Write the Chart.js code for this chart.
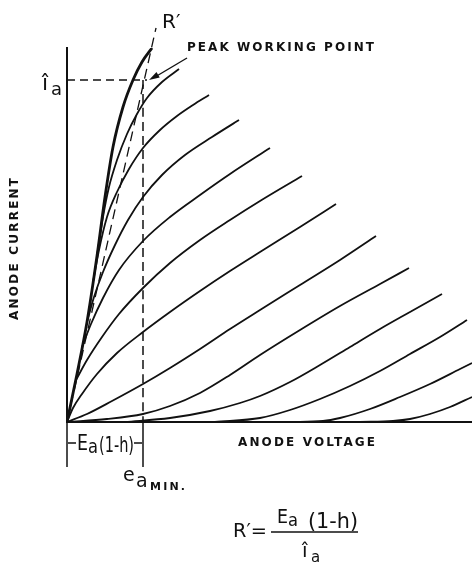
<!DOCTYPE html>
<html>
<head>
<meta charset="utf-8">
<script src="https://cdn.jsdelivr.net/npm/chart.js@4"></script>
<style>
  html, body { margin: 0; padding: 0; background: #fff; }
  canvas { display: block; }
</style>
</head>
<body>
<canvas id="anodeChart" width="472" height="566"></canvas>
<script>
// anode voltage / anode current pairs (arbitrary units)
const diodeLine = [[0,0],[10,48],[20,100],[30,166],[38,225],[46,275],[56,315],[66,342],[75,360],[85,374]];
const grid1 = [[30,166],[36,205],[42,235],[50,262],[60,288],[70,308],[80,324],[95,340],[112,353]];
const grid2 = [[26,140],[32,172],[40,205],[50,230],[62,253],[76,274],[93,292],[110,306],[126,317],[142,327]];
const grid3 = [[20,100],[27,125],[36,150],[48,177],[61,202],[76,225],[95,247],[118,267],[145,285],[172,302]];
const grid4 = [[15,75],[24,98],[36,124],[52,152],[76,181],[103,205],[133,227],[163,248],[203,274]];
const grid5 = [[9,42],[20,62],[35,85],[52,108],[76,134],[103,159],[133,182],[163,202],[193,221],[235,246]];
const grid6 = [[0,0],[6,14],[15,28],[30,48],[50,69],[76,90],[103,110],[133,131],[163,151],[193,170],[233,195],[269,218]];
const grid7 = [[0,0],[20,8],[45,21],[76,38],[103,54],[133,73],[163,93],[193,112],[233,137],[273,162],[309,186]];
const grid8 = [[0,0],[40,3],[76,8],[103,16],[133,29],[163,47],[193,67],[233,92],[273,116],[313,138],[342,154]];
const grid9 = [[58,0],[103,4],[143,11],[173,19],[193,26],[223,40],[253,57],[283,75],[313,93],[343,110],[375,128]];
const grid10 = [[148,0],[193,4],[223,12],[253,23],[283,36],[313,51],[343,68],[373,85],[400,102]];
const grid11 = [[223,0],[256,1],[273,4],[303,13],[333,25],[363,38],[393,53],[405,59]];
const grid12 = [[293,0],[326,1],[343,3],[363,8],[383,15],[405,25]];

const peakCurrent = 342;     // i_a peak
const eaMin = 76;            // e_a min
const loadLine = [[0,0],[89,394]];
const voltMax = 405;
const currMax = 374;

const family = [grid1, grid2, grid3, grid4, grid5, grid6, grid7, grid8, grid9, grid10, grid11, grid12];

function pts(arr) {
  return arr.map(p => ({ x: p[0], y: p[1] }));
}

const datasets = [];
datasets.push({ data: pts(diodeLine), borderColor: '#111', borderWidth: 2.8 });
family.forEach(c => {
  datasets.push({ data: pts(c), borderColor: '#111', borderWidth: 1.8 });
});
datasets.push({ data: pts(loadLine), borderColor: '#111', borderWidth: 1.3, borderDash: [10, 6], clip: false });
datasets.push({ data: pts([[0, peakCurrent], [eaMin + 4, peakCurrent]]), borderColor: '#111', borderWidth: 1.5, borderDash: [8, 5] });
datasets.push({ data: pts([[eaMin, peakCurrent], [eaMin, 0]]), borderColor: '#111', borderWidth: 1.5, borderDash: [9, 5] });
datasets.push({ data: pts([[eaMin, 0], [eaMin, -45]]), borderColor: '#111', borderWidth: 1.5, clip: false });
datasets.push({ data: pts([[0, 0], [0, -45]]), borderColor: '#111', borderWidth: 1.5, clip: false });

function spaced(ctx, text, x, y, width) {
  ctx.letterSpacing = '0px';
  const w = ctx.measureText(text).width;
  if ('letterSpacing' in ctx && text.length > 1) {
    ctx.letterSpacing = ((width - w) / (text.length - 1)) + 'px';
    ctx.fillText(text, x, y);
    ctx.letterSpacing = '0px';
  } else {
    ctx.fillText(text, x, y, width);
  }
}

const labels = {
  id: 'labels',
  afterDraw(chart) {
    const ctx = chart.ctx;
    const xs = chart.scales.x, ys = chart.scales.y;
    ctx.save();
    ctx.fillStyle = '#111';
    ctx.strokeStyle = '#111';
    ctx.textBaseline = 'alphabetic';
    ctx.textAlign = 'left';

    // R' at top of load line
    ctx.font = '20px "DejaVu Sans"';
    ctx.fillText('R\u2032', 162, 28);

    // peak working point label + arrow
    ctx.font = 'bold 12px "DejaVu Sans"';
    spaced(ctx, 'PEAK WORKING POINT', 187, 51, 187);
    const tipX = xs.getPixelForValue(eaMin) + 6;
    const tipY = ys.getPixelForValue(peakCurrent);
    const fromX = 187, fromY = 58;
    ctx.lineWidth = 1.4;
    ctx.beginPath();
    ctx.moveTo(fromX, fromY);
    ctx.lineTo(tipX + 6, tipY - 3);
    ctx.stroke();
    const ang = Math.atan2(tipY - fromY, tipX - fromX);
    ctx.beginPath();
    ctx.moveTo(tipX, tipY);
    ctx.lineTo(tipX - 11 * Math.cos(ang - 0.3), tipY - 11 * Math.sin(ang - 0.3));
    ctx.lineTo(tipX - 11 * Math.cos(ang + 0.3), tipY - 11 * Math.sin(ang + 0.3));
    ctx.closePath();
    ctx.fill();

    // i-hat a on the current axis
    ctx.font = '22px "DejaVu Sans"';
    ctx.fillText('\u00EE', 42, 90);
    ctx.font = '18px "DejaVu Sans"';
    ctx.fillText('a', 51, 95);

    // axis titles
    ctx.font = 'bold 12px "DejaVu Sans"';
    spaced(ctx, 'ANODE VOLTAGE', 238, 446, 137);
    ctx.save();
    ctx.translate(18, 320);
    ctx.rotate(-Math.PI / 2);
    spaced(ctx, 'ANODE CURRENT', 0, 0, 142);
    ctx.restore();

    // Ea(1-h) bracket
    ctx.lineWidth = 1.4;
    ctx.beginPath();
    ctx.moveTo(68, 443); ctx.lineTo(76, 443);
    ctx.moveTo(134, 443); ctx.lineTo(142, 443);
    ctx.stroke();
    ctx.font = '21px "DejaVu Sans"';
    ctx.fillText('E', 77, 450, 11);
    ctx.font = '19px "DejaVu Sans"';
    ctx.fillText('a', 88, 453, 10);
    ctx.font = '22px "DejaVu Sans"';
    ctx.fillText('(1-h)', 99, 452, 35);

    // ea MIN.
    ctx.font = '19px "DejaVu Sans"';
    ctx.fillText('e', 123, 481);
    ctx.fillText('a', 136, 487);
    ctx.font = 'bold 11px "DejaVu Sans"';
    spaced(ctx, 'MIN.', 150, 490, 35);

    // formula
    ctx.font = '20px "DejaVu Sans"';
    ctx.fillText('R\u2032=', 233, 537, 34);
    ctx.font = '19px "DejaVu Sans"';
    ctx.fillText('E', 277, 523, 11);
    ctx.font = '17px "DejaVu Sans"';
    ctx.fillText('a', 288, 526, 10);
    ctx.font = '22px "DejaVu Sans"';
    ctx.fillText('(1-h)', 308, 528, 50);
    ctx.lineWidth = 1.5;
    ctx.beginPath();
    ctx.moveTo(271, 532); ctx.lineTo(358, 532);
    ctx.stroke();
    ctx.font = '20px "DejaVu Sans"';
    ctx.fillText('\u00EE', 302, 557);
    ctx.font = '15px "DejaVu Sans"';
    ctx.fillText('a', 311, 562);
    ctx.restore();
  }
};

new Chart(document.getElementById('anodeChart').getContext('2d'), {
  type: 'line',
  data: { datasets: datasets },
  options: {
    responsive: false,
    animation: false,
    devicePixelRatio: 1,
    layout: { padding: { left: 67, top: 48, right: 0, bottom: 144 } },
    elements: {
      point: { radius: 0 },
      line: { cubicInterpolationMode: 'monotone', fill: false }
    },
    plugins: {
      legend: { display: false },
      tooltip: { enabled: false }
    },
    scales: {
      x: {
        type: 'linear',
        min: 0,
        max: voltMax,
        grid: { display: false, drawTicks: false },
        ticks: { display: false },
        border: { display: true, color: '#111', width: 2 }
      },
      y: {
        min: 0,
        max: currMax,
        grid: { display: false, drawTicks: false },
        ticks: { display: false },
        border: { display: true, color: '#111', width: 2 }
      }
    }
  },
  plugins: [labels]
});
</script>
</body>
</html>
